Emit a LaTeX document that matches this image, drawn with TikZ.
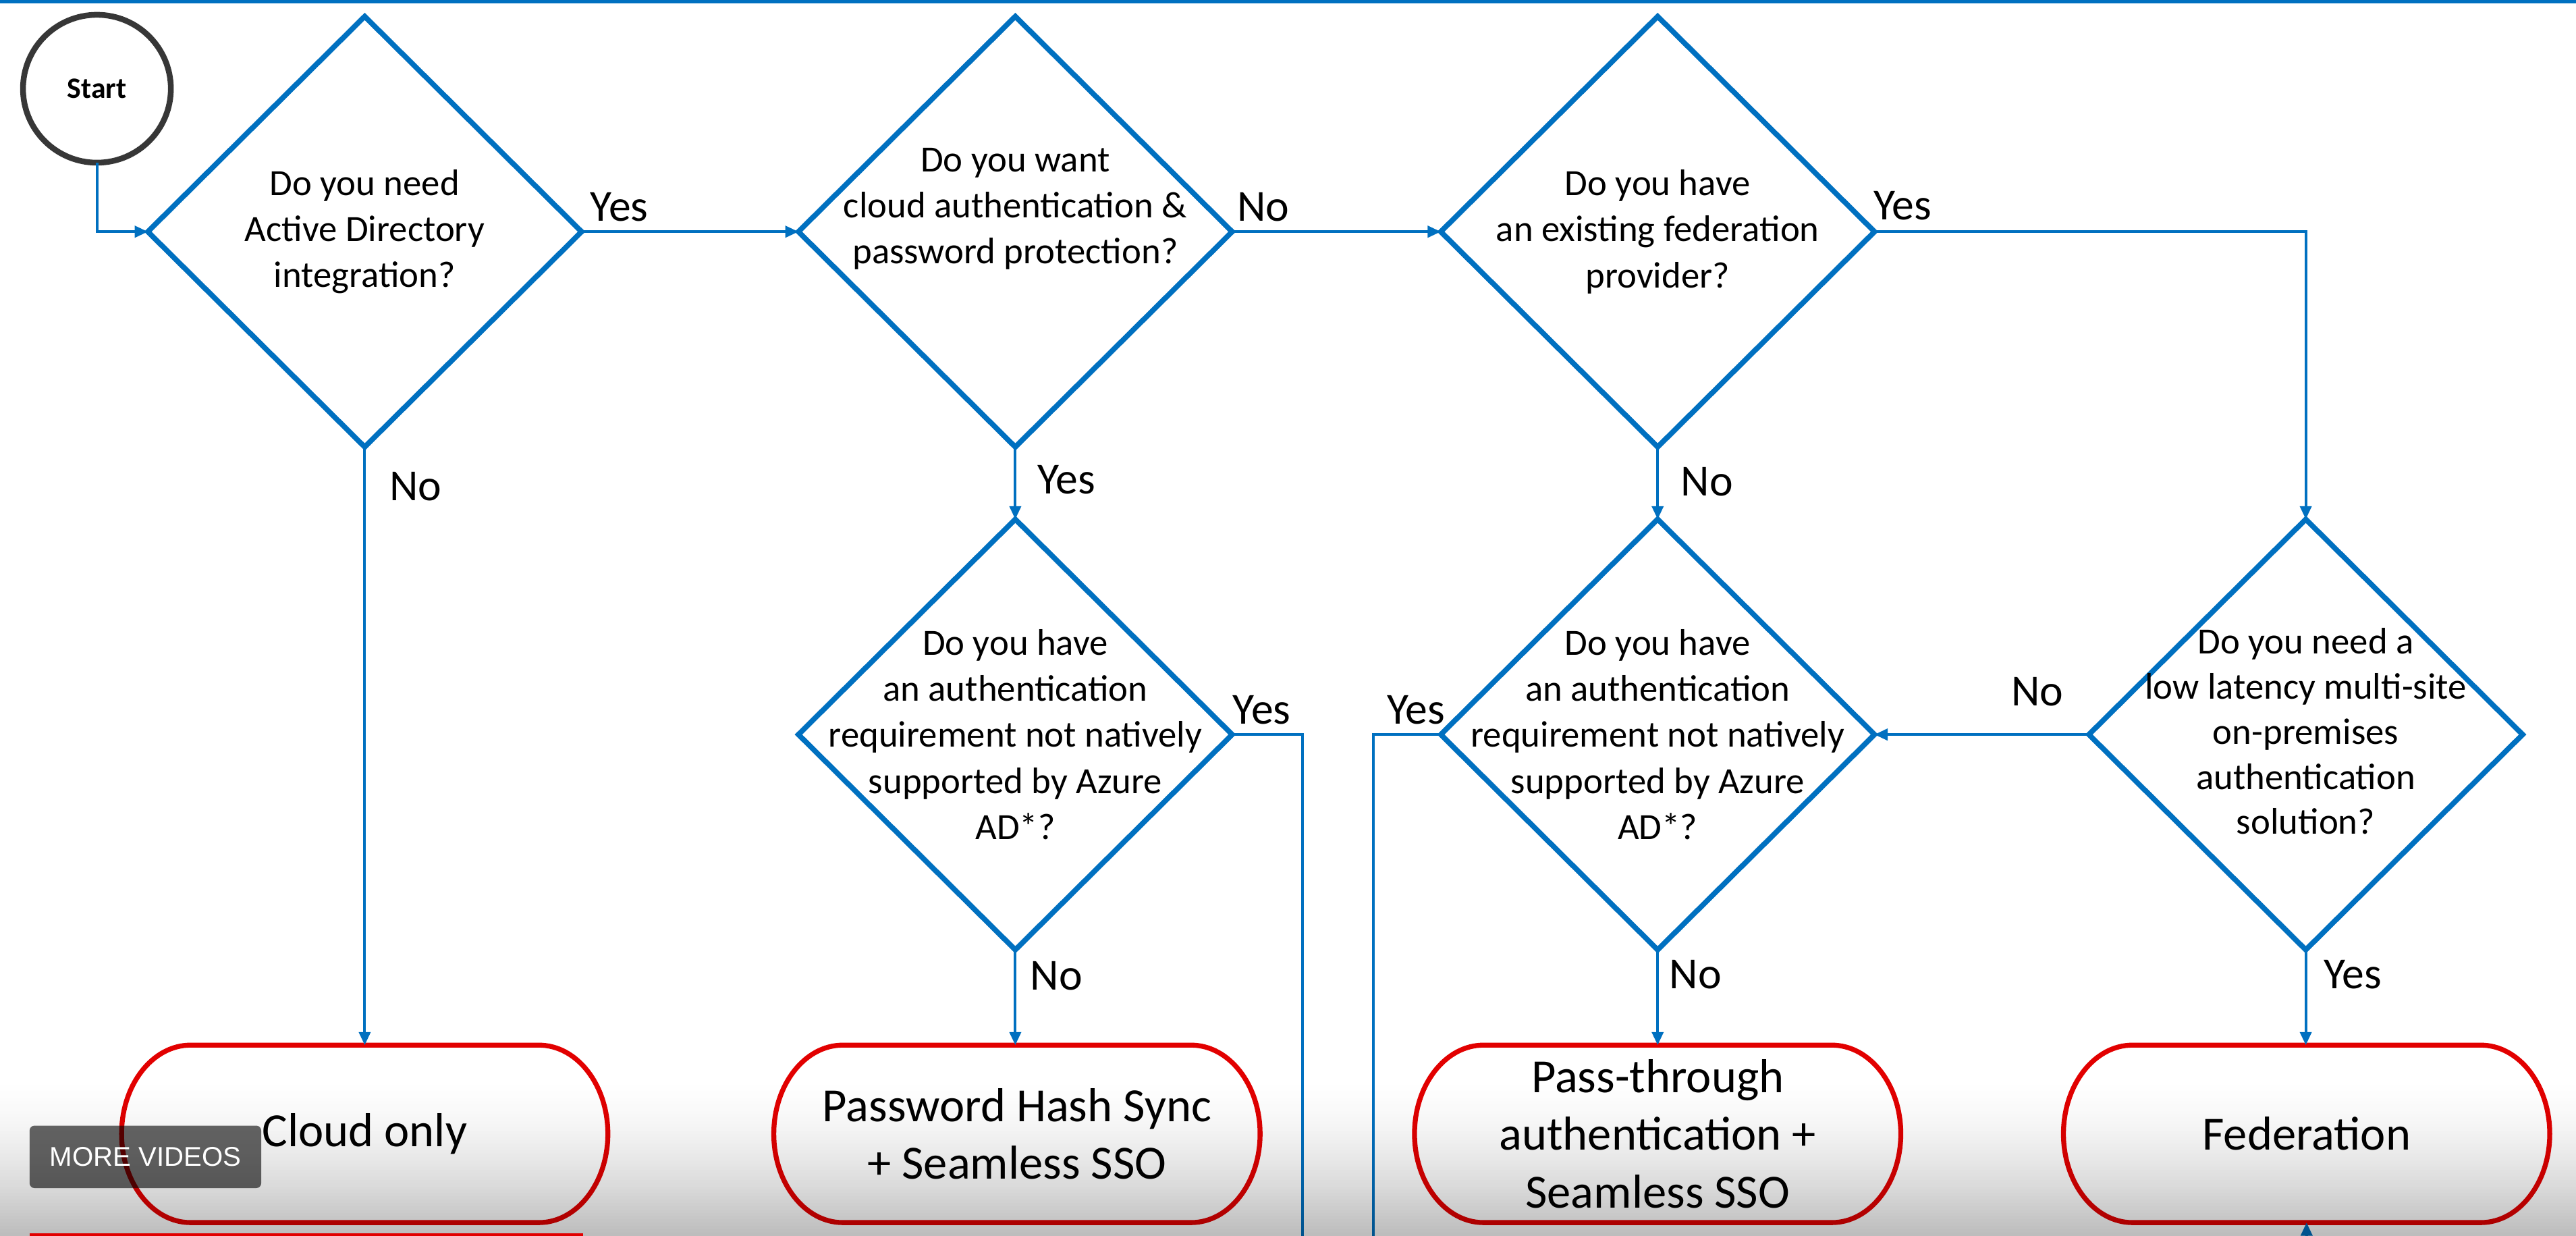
\documentclass[tikz,border=0pt]{standalone}
\usepackage{fontspec}
\setmainfont{Carlito}
\newfontfamily\uifont{Liberation Sans}
\usetikzlibrary{shapes.geometric,arrows.meta,backgrounds}
\definecolor{flowblue}{RGB}{0,112,192}
\definecolor{termred}{RGB}{226,0,0}
\definecolor{startgray}{RGB}{55,55,55}
\tikzset{
  dec/.style={diamond, draw=flowblue, line width=3.2pt, fill=white, inner sep=0pt, outer sep=0pt, minimum width=264pt, minimum height=262pt},
  qtext/.style={align=center, font=\fontsize{22.5}{28}\selectfont, inner sep=0pt},
  conn/.style={draw=flowblue, line width=1.6pt, -{Triangle[length=8pt,width=7pt]}},
  plainline/.style={draw=flowblue, line width=1.6pt},
  lab/.style={font=\fontsize{27}{32}\selectfont, inner sep=0pt},
  termbox/.style={rectangle, minimum width=296pt, minimum height=108pt, inner sep=0pt, outer sep=0pt, align=center, font=\fontsize{29}{35}\selectfont},
  termline/.style={draw=termred, line width=3pt, fill=white},
  startnode/.style={circle, draw=startgray, line width=3.5pt, fill=white, minimum size=90pt, inner sep=0pt, outer sep=0pt, font=\bfseries\fontsize{18}{20}\selectfont},
}
\newcommand{\termshape}[1]{%
  \draw[termline] ([xshift=42pt]#1.north west) -- ([xshift=-42pt]#1.north east)
    arc[start angle=90, end angle=-90, x radius=42pt, y radius=54pt]
    -- ([xshift=42pt]#1.south west)
    arc[start angle=270, end angle=90, x radius=42pt, y radius=54pt] -- cycle;}
\begin{document}
\begin{tikzpicture}[x=1pt,y=-1pt]
\useasboundingbox (0,0) rectangle (1568,752);
\begin{scope}[on background layer]
  \fill[white] (0,0) rectangle (1568,752);
\end{scope}
\fill[flowblue] (0,0) rectangle (1568,2);

% start
\node[startnode] (start) at (59,54) {Start};

% decisions
\node[dec] (d1) at (222,141) {};
\node[qtext] (d1t) at (222,141) {Do you need\\Active Directory\\integration?};
\node[dec] (d2) at (618,141) {};
\node[qtext] (d2t) at (618,127) {Do you want\\cloud authentication \&\\password protection?};
\node[dec] (d3) at (1009,141) {};
\node[qtext] (d3t) at (1009,141) {Do you have\\an existing federation\\provider?};
\node[dec] (d4) at (618,447) {};
\node[qtext] (d4t) at (618,447) {Do you have\\an authentication\\requirement not natively\\supported by Azure\\AD*?};
\node[dec] (d5) at (1009,447) {};
\node[qtext] (d5t) at (1009,447) {Do you have\\an authentication\\requirement not natively\\supported by Azure\\AD*?};
\node[dec] (d6) at (1403.5,447) {};
\node[qtext, font=\fontsize{22.5}{27.5}\selectfont] (d6t) at (1403.5,445) {Do you need a\\low latency multi-site\\on-premises\\authentication\\solution?};

% terminals
\node[termbox] (t1) at (222,690) {Cloud only};
\node[termbox] (t2) at (619,690) {Password Hash Sync\\+ Seamless SSO};
\node[termbox] (t3) at (1009,690) {Pass-through\\authentication +\\Seamless SSO};
\node[termbox] (t4) at (1404,690) {Federation};
\begin{scope}[on background layer]
  \termshape{t1}
  \termshape{t2}
  \termshape{t3}
  \termshape{t4}
\end{scope}

% free ends
\coordinate (c4) at (793,752);
\coordinate (c5) at (836,752);
\coordinate (c6) at (1404,756);

% connectors
\draw[conn] (start.south) |- (d1.west);
\draw[conn] (d1.east) -- (d2.west);
\draw[conn] (d2.east) -- (d3.west);
\draw[conn] (d3.east) -| (d6.north);
\draw[conn] (d1.south) -- (t1.north);
\draw[conn] (d2.south) -- (d4.north);
\draw[conn] (d3.south) -- (d5.north);
\draw[conn] (d4.south) -- (d4.south |- t2.north);
\draw[conn] (d5.south) -- (t3.north);
\draw[conn] (d6.south) -- (d6.south |- t4.north);
\draw[conn] (d6.west) -- (d5.east);
\draw[plainline] (d4.east) -| (c4);
\draw[plainline] (d5.west) -| (c5);
\draw[conn] (c6) -- (t4.south);

% labels
\node[lab] (l1) at (377,126) {Yes};
\node[lab] (l2) at (253,296) {No};
\node[lab] (l3) at (769,126) {No};
\node[lab] (l4) at (649,292) {Yes};
\node[lab] (l5) at (1158,125) {Yes};
\node[lab] (l6) at (1039,293) {No};
\node[lab] (l7) at (768,432) {Yes};
\node[lab] (l8) at (862,432) {Yes};
\node[lab] (l9) at (1240,421) {No};
\node[lab] (l10) at (643,594) {No};
\node[lab] (l11) at (1032,593) {No};
\node[lab] (l12) at (1432,593) {Yes};

% video overlay: soft darkening towards the bottom edge
\foreach \i in {0,...,47}{
  \pgfmathsetmacro{\op}{0.26*((\i+1)/48)^1.6}
  \fill[black, fill opacity=\op] (0,656+2*\i) rectangle (1568,658+2*\i);
}
\node[fill=black, fill opacity=0.6, text opacity=1, text=white, rounded corners=3pt, minimum width=141pt, minimum height=38pt, inner sep=0pt, font=\uifont\fontsize{16.5}{18}\selectfont] (mv) at (88.5,704) {MORE VIDEOS};
\fill[termred] (18,750.6) rectangle (355,752);
\end{tikzpicture}
\end{document}
